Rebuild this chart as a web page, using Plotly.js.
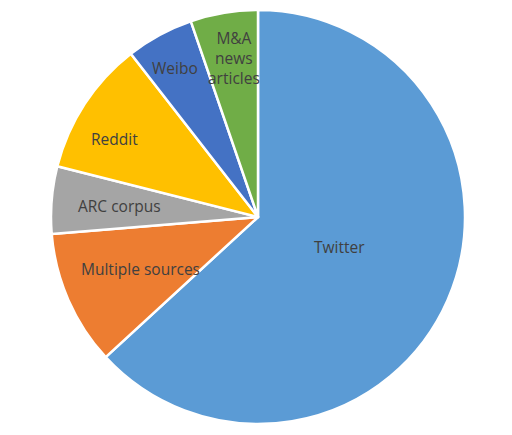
<!DOCTYPE html>
<html><head><meta charset="utf-8">
<script src="https://cdn.plot.ly/plotly-3.0.1.min.js"></script>
<style>html,body{margin:0;padding:0;background:#fff;}#chart{width:512px;height:435px;}</style>
</head><body><div id="chart"></div>
<script>
const categories = ["Twitter", "Multiple sources", "ARC corpus", "Reddit", "Weibo", "M&A news articles"];
const displayLabels = ["Twitter", "Multiple sources", "ARC corpus", "Reddit", "Weibo", "M&A<br>news<br>articles"];
const values = [12, 2, 1, 2, 1, 1];
const colors = ["#5B9BD5", "#ED7D31", "#A5A5A5", "#FFC000", "#4472C4", "#70AD47"];

// label placement (style): radial fraction of the radius and small pixel nudges
const labelRadius = [0.42, 0.62, 0.67, 0.79, 0.82, 0.78];
const labelNudgeX = [2, 0, 0, -7, -2, 3];
const labelNudgeY = [5, 0, 0, -11, 0, 0];

const total = values.reduce((a, b) => a + b, 0);
let cum = 0;
const annotations = values.map((v, i) => {
  const mid = (cum + v / 2) / total * 2 * Math.PI;
  cum += v;
  return {
    xref: "paper", yref: "paper",
    x: 0.5 + 0.5 * labelRadius[i] * Math.sin(mid),
    y: 0.5 + 0.5 * labelRadius[i] * Math.cos(mid),
    xshift: labelNudgeX[i], yshift: labelNudgeY[i],
    text: displayLabels[i], showarrow: false,
    xanchor: "center", yanchor: "middle",
    font: {family: "Open Sans, sans-serif", size: 15.5, color: "#404040"}
  };
});

Plotly.newPlot("chart", [{
  type: "pie",
  labels: categories,
  values: values,
  textinfo: "none",
  hoverinfo: "label+value",
  sort: false,
  direction: "clockwise",
  rotation: 0,
  marker: {colors: colors, line: {color: "#ffffff", width: 2.5}},
  showlegend: false
}], {
  width: 512, height: 435,
  margin: {l: 51, r: 47, t: 10, b: 11},
  paper_bgcolor: "#ffffff",
  showlegend: false,
  annotations: annotations
}, {displayModeBar: false, staticPlot: true});
</script></body></html>
